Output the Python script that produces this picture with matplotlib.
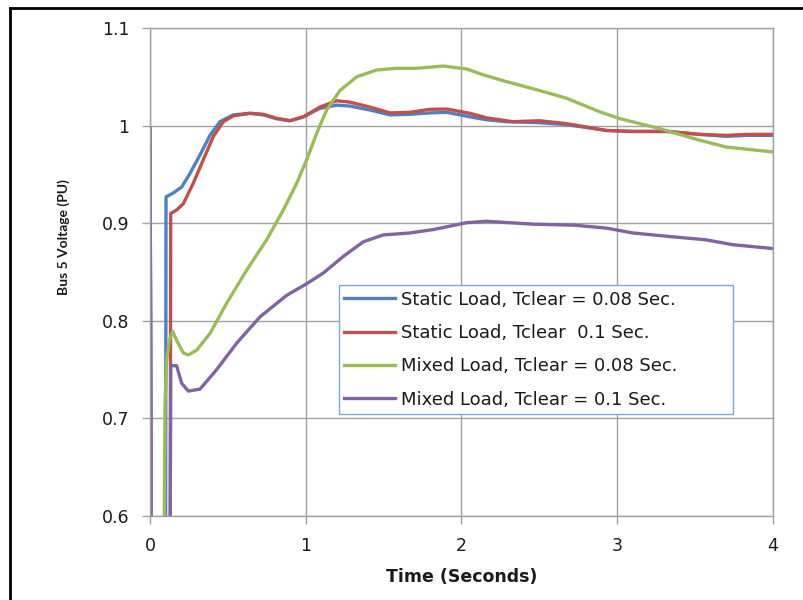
import matplotlib
matplotlib.use('Agg')
import matplotlib.pyplot as plt
from matplotlib.lines import Line2D

# tid (s) og spenning (pu) lest av figuren
t_static_008 = [0, 0.012, 0.098, 0.103, 0.150, 0.203, 0.257, 0.321, 0.385, 0.449, 0.535, 0.642, 0.728,
                0.813, 0.899, 0.985, 1.091, 1.199, 1.284, 1.412, 1.541, 1.669, 1.798, 1.905, 2.054,
                2.16, 2.29, 2.50, 2.675, 2.93, 3.10, 3.32, 3.53, 3.70, 3.83, 4.0]
v_static_008 = [0.997, 0.35, 0.35, 0.927, 0.931, 0.937, 0.951, 0.970, 0.990, 1.004, 1.011, 1.0126, 1.011,
                1.007, 1.005, 1.009, 1.0177, 1.021, 1.020, 1.016, 1.011, 1.0116, 1.013, 1.0136, 1.009,
                1.006, 1.004, 1.003, 1.001, 0.995, 0.994, 0.994, 0.991, 0.989, 0.990, 0.990]

t_static_01 = [0, 0.012, 0.128, 0.133, 0.171, 0.214, 0.278, 0.342, 0.407, 0.471, 0.535, 0.642, 0.728,
               0.813, 0.899, 0.985, 1.091, 1.199, 1.284, 1.412, 1.541, 1.669, 1.798, 1.905, 2.054,
               2.16, 2.33, 2.5, 2.675, 2.93, 3.10, 3.32, 3.53, 3.70, 3.83, 4.0]
v_static_01 = [0.997, 0.35, 0.35, 0.910, 0.9135, 0.920, 0.941, 0.965, 0.989, 1.004, 1.010, 1.0126, 1.0116,
               1.0075, 1.005, 1.009, 1.019, 1.0255, 1.024, 1.019, 1.013, 1.0136, 1.0167, 1.017, 1.0126,
               1.008, 1.004, 1.005, 1.002, 0.995, 0.994, 0.994, 0.991, 0.990, 0.991, 0.991]

t_mixed_008 = [0, 0.012, 0.088, 0.092, 0.096, 0.107, 0.124, 0.146, 0.171, 0.214, 0.246, 0.30, 0.385,
               0.492, 0.621, 0.749, 0.856, 0.942, 1.006, 1.070, 1.134, 1.220, 1.327, 1.455, 1.584,
               1.712, 1.883, 2.033, 2.14, 2.29, 2.5, 2.675, 2.89, 3.02, 3.27, 3.53, 3.70, 4.0]
v_mixed_008 = [0.997, 0.35, 0.35, 0.6, 0.712, 0.760, 0.780, 0.789, 0.780, 0.767, 0.765, 0.770, 0.787,
               0.818, 0.852, 0.883, 0.9135, 0.941, 0.965, 0.992, 1.016, 1.036, 1.050, 1.057, 1.0587,
               1.0587, 1.061, 1.058, 1.052, 1.045, 1.036, 1.028, 1.014, 1.007, 0.997, 0.985, 0.978, 0.973]

t_mixed_01 = [0, 0.012, 0.127, 0.13, 0.133, 0.171, 0.203, 0.246, 0.321, 0.428, 0.556, 0.706, 0.877,
              1.006, 1.113, 1.241, 1.370, 1.498, 1.669, 1.819, 2.033, 2.16, 2.46, 2.72, 2.93, 3.10,
              3.36, 3.57, 3.74, 4.0]
v_mixed_01 = [0.997, 0.35, 0.35, 0.6, 0.754, 0.754, 0.736, 0.728, 0.730, 0.750, 0.777, 0.804, 0.826,
              0.838, 0.849, 0.866, 0.881, 0.888, 0.890, 0.8935, 0.9005, 0.902, 0.899, 0.898, 0.895, 0.890,
              0.886, 0.883, 0.878, 0.874]

labels = ['Static Load, Tclear = 0.08 Sec.',
          'Static Load, Tclear  0.1 Sec.',
          'Mixed Load, Tclear = 0.08 Sec.',
          'Mixed Load, Tclear = 0.1 Sec.']
colors = ['#4F81BD', '#C0504D', '#9BBB59', '#8064A2']

fig = plt.figure(figsize=(8.04, 6.0), dpi=100)
ax = fig.add_axes([150/804, 1 - 516/600, 623/804, 488/600])

series = [(t_static_008, v_static_008), (t_static_01, v_static_01),
          (t_mixed_008, v_mixed_008), (t_mixed_01, v_mixed_01)]
for (t, v), lab, c in zip(series, labels, colors):
    ax.plot(t, v, color=c, lw=2.4, label=lab, solid_joinstyle='round')

ax.set_xlim(0, 4)
ax.set_ylim(0.6, 1.1)
ax.set_xticks([0, 1, 2, 3, 4])
ax.set_xticklabels(['0', '1', '2', '3', '4'])
ax.set_yticks([0.6, 0.7, 0.8, 0.9, 1.0, 1.1])
ax.set_yticklabels(['0.6', '0.7', '0.8', '0.9', '1', '1.1'])
ax.grid(True, color='#A0A0A0', lw=1)
ax.set_axisbelow(True)
for s in ax.spines.values():
    s.set_color('#A0A0A0')
    s.set_linewidth(1)
ax.tick_params(direction='out', length=6, width=1, color='#A0A0A0',
               labelsize=12.5, labelcolor='#1a1a1a', pad=9)

ax.set_xlabel('Time (Seconds)', fontsize=12.5, fontweight='bold', color='#1a1a1a')
ax.xaxis.set_label_coords(0.5, -0.106)
ax.set_ylabel('Bus 5 Voltage (PU)', fontsize=10, fontweight='bold', family='Lato', color='#1a1a1a')
ax.yaxis.set_label_coords(-0.128, 0.572)

leg = ax.legend(loc='lower left', bbox_to_anchor=(0.303, 0.209, 0.633, 0.262), mode='expand',
                fontsize=13, frameon=True, fancybox=False, framealpha=1,
                handlelength=2.8, handletextpad=0.35, labelspacing=0.85, borderpad=0.3,
                borderaxespad=0, labelcolor='#1a1a1a')
leg.get_frame().set_edgecolor('#7EA6D8')
leg.get_frame().set_linewidth(1)

# ramme rundt figuren
fig.add_artist(Line2D([10/804, 10/804], [0, 1 - 8/600], color='black', lw=2, transform=fig.transFigure))
fig.add_artist(Line2D([10/804, 1], [1 - 8/600, 1 - 8/600], color='black', lw=2, transform=fig.transFigure))

fig.savefig('out.png', dpi=100)
